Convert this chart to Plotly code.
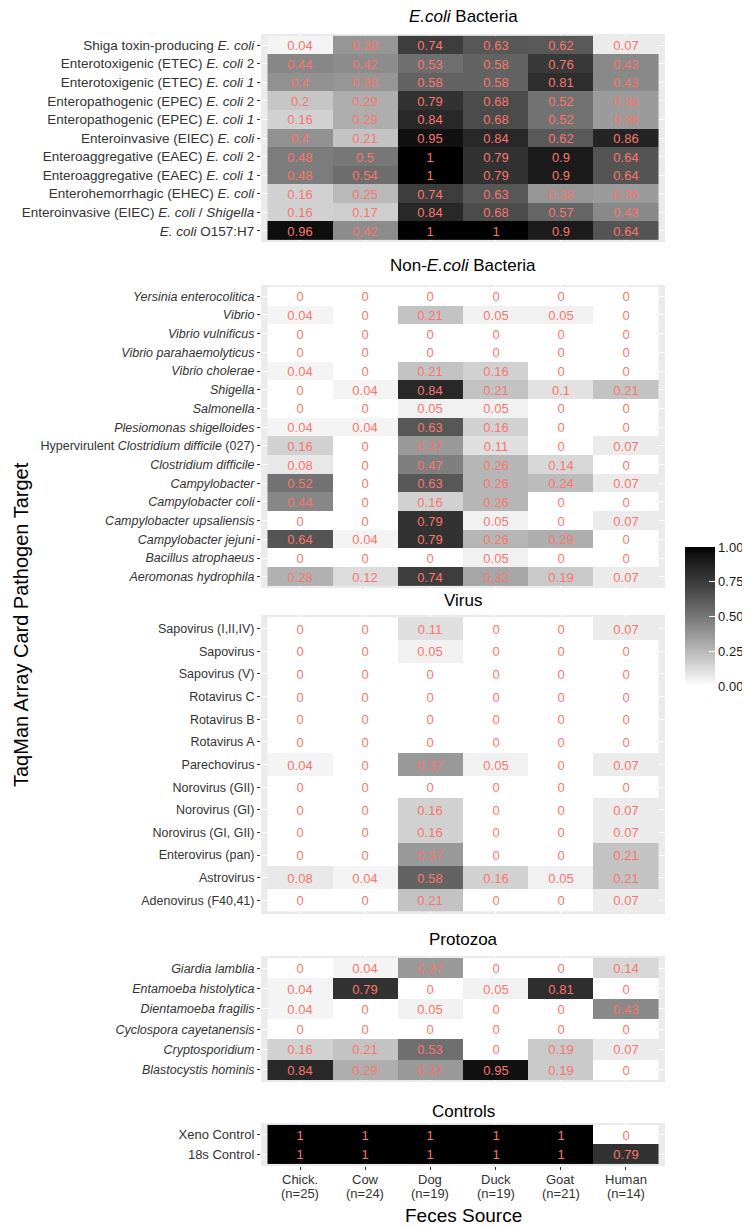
import plotly.graph_objects as go

W, H = 750, 1227

source_names = ["Chick.", "Cow", "Dog", "Duck", "Goat", "Human"]
source_n = ["(n=25)", "(n=24)", "(n=19)", "(n=19)", "(n=21)", "(n=14)"]

ecoli_labels = [
    "Shiga toxin-producing <i>E. coli</i>",
    "Enterotoxigenic (ETEC) <i>E. coli</i> 2",
    "Enterotoxigenic (ETEC) <i>E. coli 1</i>",
    "Enteropathogenic (EPEC) <i>E. coli</i> 2",
    "Enteropathogenic (EPEC) <i>E. coli 1</i>",
    "Enteroinvasive (EIEC) <i>E. coli</i>",
    "Enteroaggregative (EAEC) <i>E. coli</i> 2",
    "Enteroaggregative (EAEC) <i>E. coli 1</i>",
    "Enterohemorrhagic (EHEC) <i>E. coli</i>",
    "Enteroinvasive (EIEC) <i>E. coli</i> / <i>Shigella</i>",
    "<i>E. coli</i> O157:H7",
]
ecoli_values = [
    [0.04, 0.38, 0.74, 0.63, 0.62, 0.07],
    [0.44, 0.42, 0.53, 0.58, 0.76, 0.43],
    [0.4, 0.38, 0.58, 0.58, 0.81, 0.43],
    [0.2, 0.29, 0.79, 0.68, 0.52, 0.36],
    [0.16, 0.29, 0.84, 0.68, 0.52, 0.36],
    [0.4, 0.21, 0.95, 0.84, 0.62, 0.86],
    [0.48, 0.5, 1, 0.79, 0.9, 0.64],
    [0.48, 0.54, 1, 0.79, 0.9, 0.64],
    [0.16, 0.25, 0.74, 0.63, 0.38, 0.36],
    [0.16, 0.17, 0.84, 0.68, 0.57, 0.43],
    [0.96, 0.42, 1, 1, 0.9, 0.64],
]

nonecoli_labels = [
    "<i>Yersinia enterocolitica</i>",
    "<i>Vibrio</i>",
    "<i>Vibrio vulnificus</i>",
    "<i>Vibrio parahaemolyticus</i>",
    "<i>Vibrio cholerae</i>",
    "<i>Shigella</i>",
    "<i>Salmonella</i>",
    "<i>Plesiomonas shigelloides</i>",
    "Hypervirulent <i>Clostridium difficile</i> (027)",
    "<i>Clostridium difficile</i>",
    "<i>Campylobacter</i>",
    "<i>Campylobacter coli</i>",
    "<i>Campylobacter upsaliensis</i>",
    "<i>Campylobacter jejuni</i>",
    "<i>Bacillus atrophaeus</i>",
    "<i>Aeromonas hydrophila</i>",
]
nonecoli_values = [
    [0, 0, 0, 0, 0, 0],
    [0.04, 0, 0.21, 0.05, 0.05, 0],
    [0, 0, 0, 0, 0, 0],
    [0, 0, 0, 0, 0, 0],
    [0.04, 0, 0.21, 0.16, 0, 0],
    [0, 0.04, 0.84, 0.21, 0.1, 0.21],
    [0, 0, 0.05, 0.05, 0, 0],
    [0.04, 0.04, 0.63, 0.16, 0, 0],
    [0.16, 0, 0.37, 0.11, 0, 0.07],
    [0.08, 0, 0.47, 0.26, 0.14, 0],
    [0.52, 0, 0.63, 0.26, 0.24, 0.07],
    [0.44, 0, 0.16, 0.26, 0, 0],
    [0, 0, 0.79, 0.05, 0, 0.07],
    [0.64, 0.04, 0.79, 0.26, 0.29, 0],
    [0, 0, 0, 0.05, 0, 0],
    [0.28, 0.12, 0.74, 0.32, 0.19, 0.07],
]

virus_labels = [
    "Sapovirus (I,II,IV)", "Sapovirus", "Sapovirus (V)", "Rotavirus C", "Rotavirus B",
    "Rotavirus A", "Parechovirus", "Norovirus (GII)", "Norovirus (GI)", "Norovirus (GI, GII)",
    "Enterovirus (pan)", "Astrovirus", "Adenovirus (F40,41)",
]
virus_values = [
    [0, 0, 0.11, 0, 0, 0.07],
    [0, 0, 0.05, 0, 0, 0],
    [0, 0, 0, 0, 0, 0],
    [0, 0, 0, 0, 0, 0],
    [0, 0, 0, 0, 0, 0],
    [0, 0, 0, 0, 0, 0],
    [0.04, 0, 0.37, 0.05, 0, 0.07],
    [0, 0, 0, 0, 0, 0],
    [0, 0, 0.16, 0, 0, 0.07],
    [0, 0, 0.16, 0, 0, 0.07],
    [0, 0, 0.37, 0, 0, 0.21],
    [0.08, 0.04, 0.58, 0.16, 0.05, 0.21],
    [0, 0, 0.21, 0, 0, 0.07],
]

protozoa_labels = [
    "<i>Giardia lamblia</i>", "<i>Entamoeba histolytica</i>", "<i>Dientamoeba fragilis</i>",
    "<i>Cyclospora cayetanensis</i>", "<i>Cryptosporidium</i>", "<i>Blastocystis hominis</i>",
]
protozoa_values = [
    [0, 0.04, 0.37, 0, 0, 0.14],
    [0.04, 0.79, 0, 0.05, 0.81, 0],
    [0.04, 0, 0.05, 0, 0, 0.43],
    [0, 0, 0, 0, 0, 0],
    [0.16, 0.21, 0.53, 0, 0.19, 0.07],
    [0.84, 0.29, 0.37, 0.95, 0.19, 0],
]

control_labels = ["Xeno Control", "18s Control"]
control_values = [
    [1, 1, 1, 1, 1, 0],
    [1, 1, 1, 1, 1, 0.79],
]

panel_titles = ["<i>E.coli</i> Bacteria", "Non-<i>E.coli</i> Bacteria", "Virus", "Protozoa", "Controls"]
colorbar_ticks = [0, 0.25, 0.5, 0.75, 1]

# ---- layout constants (pixels) ----
X_LEFT, X_RIGHT = 253, 657
panels_px = [(26, 234), (277, 580), (607, 906), (948, 1074), (1115, 1158)]
title_px = [9, 257, 592, 932, 1103]
label_size = [13.5, 12.5, 12.5, 12.5, 13]
XLAB_PX = (1171, 1185)
FONT = "Liberation Sans"


def lab_gray(t):
    L = 100 * (1 - t)
    fy = (L + 16) / 116
    Y = fy ** 3 if L > 8 else L / 903.3
    v = 12.92 * Y if Y <= 0.0031308 else 1.055 * Y ** (1 / 2.4) - 0.055
    g = int(round(max(0, min(1, v)) * 255))
    return f"rgb({g},{g},{g})"


colorscale = [[i / 20, lab_gray(i / 20)] for i in range(21)]

panels = [
    (ecoli_labels, ecoli_values),
    (nonecoli_labels, nonecoli_values),
    (virus_labels, virus_values),
    (protozoa_labels, protozoa_values),
    (control_labels, control_values),
]

fig = go.Figure()
layout = dict(
    width=W, height=H,
    margin=dict(l=0, r=0, t=0, b=0),
    paper_bgcolor="white",
    plot_bgcolor="#EBEBEB",
    font=dict(family=FONT, color="#333333"),
    coloraxis=dict(
        colorscale=colorscale, cmin=0, cmax=1,
        colorbar=dict(
            thickness=30, len=139, lenmode="pixels",
            x=677 / W, xanchor="left", xpad=0,
            y=1 - 608.5 / H, yanchor="middle", ypad=0,
            outlinewidth=0,
            tickvals=colorbar_ticks,
            ticktext=[f"{v:.2f}" for v in colorbar_ticks],
            ticks="inside", ticklen=6, tickcolor="white", tickwidth=1,
            tickfont=dict(size=13, color="#1A1A1A", family=FONT),
        ),
    ),
    showlegend=False,
)

cols = list(range(len(source_names)))
annotations = []
last_k = str(len(panels))
for i, (labels, vals) in enumerate(panels):
    k = "" if i == 0 else str(i + 1)
    top, bot = panels_px[i]
    n = len(labels)
    fig.add_trace(go.Heatmap(
        z=vals, x=cols, y=list(range(n)),
        text=[[f"{v:g}" for v in row] for row in vals],
        texttemplate="%{text}",
        textfont=dict(size=13, color="#F8766D", family=FONT),
        coloraxis="coloraxis",
        xaxis="x" + k, yaxis="y" + k,
        xgap=0, ygap=0, hoverinfo="skip",
    ))
    last = i == len(panels) - 1
    layout["xaxis" + k] = dict(
        domain=[X_LEFT / W, X_RIGHT / W], anchor="y" + k,
        range=[-0.6, len(source_names) - 0.4],
        tickmode="array", tickvals=cols,
        showticklabels=False,
        ticks="outside" if last else "", ticklen=3, tickcolor="#333333",
        showgrid=True, gridcolor="white", gridwidth=1.2,
        zeroline=False, showline=False, fixedrange=True,
    )
    layout["yaxis" + k] = dict(
        domain=[1 - bot / H, 1 - top / H], anchor="x" + k,
        range=[n - 0.4, -0.6],
        tickmode="array", tickvals=list(range(n)), ticktext=labels,
        ticks="outside", ticklen=3, tickcolor="#333333",
        tickfont=dict(size=label_size[i], color="#333333"),
        showgrid=True, gridcolor="white", gridwidth=1.2,
        zeroline=False, showline=False, fixedrange=True,
    )
    annotations.append(dict(
        text=panel_titles[i], x=455 / W, y=1 - title_px[i] / H,
        xref="paper", yref="paper", xanchor="center", yanchor="middle",
        showarrow=False, font=dict(size=17, color="black"),
    ))

# x category labels (two lines, tight spacing like ggplot)
for c in cols:
    for txt, py in ((source_names[c], XLAB_PX[0]), (source_n[c], XLAB_PX[1])):
        annotations.append(dict(
            text=txt, x=c, xref="x" + last_k, y=1 - py / H, yref="paper",
            xanchor="center", yanchor="middle", showarrow=False,
            font=dict(size=13, color="#333333"),
        ))

annotations.append(dict(
    text="Feces Source", x=455 / W, y=1 - 1207 / H, xref="paper", yref="paper",
    xanchor="center", yanchor="middle", showarrow=False, font=dict(size=19, color="black"),
))
annotations.append(dict(
    text="TaqMan Array Card Pathogen Target", x=13 / W, y=1 - 617 / H, xref="paper", yref="paper",
    xanchor="center", yanchor="middle", textangle=-90, showarrow=False,
    font=dict(size=20, color="black"),
))
layout["annotations"] = annotations
fig.update_layout(**layout)
fig.write_html("out.html")
